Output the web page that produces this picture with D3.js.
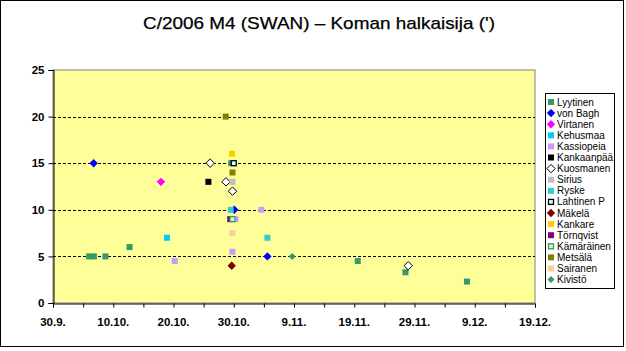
<!DOCTYPE html>
<html><head><meta charset="utf-8">
<script src="https://cdn.jsdelivr.net/npm/d3@7"></script>
<style>body{margin:0;background:#fff}svg{display:block}text{font-family:Arial,"Liberation Sans",sans-serif}</style>
</head><body><svg id="c" width="626" height="351"></svg>
<script>
const title = "C/2006 M4 (SWAN) \u2013 Koman halkaisija (')";
const observers = ["Lyytinen","von Bagh","Virtanen","Kehusmaa","Kassiopeia","Kankaanpää","Kuosmanen","Sirius","Ryske","Lahtinen P","Mäkelä","Kankare","Törnqvist","Kämäräinen","Metsälä","Sairanen","Kivistö"];
// observation: date (with hour), diameter in arcmin, observer
const obsDate = ["2006-10-06 00","2006-10-06 19","2006-10-08 17","2006-10-12 17","2006-10-29 14","2006-11-19 14","2006-11-27 12","2006-12-07 17",
  "2006-10-06 18","2006-10-30 02","2006-11-04 14",
  "2006-10-17 22",
  "2006-10-18 22",
  "2006-11-03 14","2006-10-30 07","2006-10-20 05","2006-10-29 19",
  "2006-10-25 19",
  "2006-10-26 02","2006-10-28 17","2006-10-29 19","2006-11-27 23",
  "2006-10-29 19",
  "2006-10-29 12","2006-11-04 14",
  "2006-10-30 00",
  "2006-10-29 16",
  "2006-10-29 17",
  "2006-10-29 10",
  "2006-10-29 19",
  "2006-10-28 16","2006-10-29 19",
  "2006-10-29 19",
  "2006-11-08 17"];
const obsValue = [5,5,5,6,15,4.5,3.3,2.3,
  15,10,5,
  13,
  7,
  10,9,4.5,5.5,
  13,
  15,13,12,4,
  13,
  10,7,
  15,
  4,
  16,
  9,
  9,
  20,14,
  7.5,
  5];
const obsObserver = ["Lyytinen","Lyytinen","Lyytinen","Lyytinen","Lyytinen","Lyytinen","Lyytinen","Lyytinen",
  "von Bagh","von Bagh","von Bagh",
  "Virtanen",
  "Kehusmaa",
  "Kassiopeia","Kassiopeia","Kassiopeia","Kassiopeia",
  "Kankaanpää",
  "Kuosmanen","Kuosmanen","Kuosmanen","Kuosmanen",
  "Sirius",
  "Ryske","Ryske",
  "Lahtinen P",
  "Mäkelä",
  "Kankare",
  "Törnqvist",
  "Kämäräinen",
  "Metsälä","Metsälä",
  "Sairanen",
  "Kivistö"];
const xTickLabels = ["30.9.","10.10.","20.10.","30.10.","9.11.","19.11.","29.11.","9.12.","19.12."];
const yTicks = [0,5,10,15,20,25];

const style = {
  "Lyytinen":{shape:"sq",fill:"#339966",stroke:"none"},
  "von Bagh":{shape:"dia",fill:"#0000FF",stroke:"none"},
  "Virtanen":{shape:"dia",fill:"#FF00FF",stroke:"none"},
  "Kehusmaa":{shape:"sq",fill:"#00CCFF",stroke:"none"},
  "Kassiopeia":{shape:"sq",fill:"#CC99FF",stroke:"none"},
  "Kankaanpää":{shape:"sq",fill:"#000000",stroke:"none"},
  "Kuosmanen":{shape:"dia",fill:"#FFFFFF",stroke:"#000000"},
  "Sirius":{shape:"sq",fill:"#C0C0C0",stroke:"none"},
  "Ryske":{shape:"sq",fill:"#33CCCC",stroke:"none"},
  "Lahtinen P":{shape:"sq",fill:"#CCFFFF",stroke:"#000000"},
  "Mäkelä":{shape:"dia",fill:"#800000",stroke:"none"},
  "Kankare":{shape:"sq",fill:"#FFCC00",stroke:"none"},
  "Törnqvist":{shape:"sq",fill:"#800080",stroke:"none"},
  "Kämäräinen":{shape:"sq",fill:"#CCFFCC",stroke:"#339966"},
  "Metsälä":{shape:"sq",fill:"#808000",stroke:"none"},
  "Sairanen":{shape:"sq",fill:"#FFCC99",stroke:"none"},
  "Kivistö":{shape:"dia",fill:"#339966",stroke:"none",small:true}
};

const parse = d3.timeParse("%Y-%m-%d %H");
const svg = d3.select("#c");
svg.append("rect").attr("x",0.5).attr("y",0.5).attr("width",623).attr("height",346).attr("fill","#fff").attr("stroke","#000");

const L=53, R=535, T=70, B=303;
const x = d3.scaleTime().domain([new Date(2006,8,30), new Date(2006,11,19)]).range([L,R]);
const y = d3.scaleLinear().domain([0,25]).range([B,T]);

svg.append("rect").attr("x",L).attr("y",T).attr("width",R-L).attr("height",B-T).attr("fill","#FFFF99").attr("stroke","#808080");

// gridlines
svg.append("g").selectAll("line").data(yTicks.filter(v=>v>0&&v<25)).join("line")
  .attr("x1",L).attr("x2",R).attr("y1",d=>Math.round(y(d))+0.5).attr("y2",d=>Math.round(y(d))+0.5)
  .attr("stroke","#000").attr("stroke-dasharray","3,2");

// axes
const xTickDates = d3.range(0,81,5).map(d=>d3.timeDay.offset(new Date(2006,8,30),d));
const xAxis = d3.axisBottom(x).tickValues(xTickDates).tickSize(4).tickFormat("");
const gx = svg.append("g").attr("transform",`translate(0,${B+0.5})`).call(xAxis);
gx.select(".domain").attr("stroke","#000");
gx.selectAll(".tick line").attr("stroke","#000");
svg.append("g").selectAll("text").data(xTickLabels).join("text")
  .attr("x",(d,i)=>x(xTickDates[i*2])).attr("y",326).attr("text-anchor","middle")
  .attr("font-size","11.5px").attr("font-weight","bold").text(d=>d);

const yAxis = d3.axisLeft(y).tickValues(yTicks).tickSize(5).tickPadding(4);
const gy = svg.append("g").attr("transform",`translate(${L+0.5},0)`).call(yAxis);
gy.select(".domain").attr("stroke","#000");
gy.selectAll(".tick line").attr("stroke","#000");
gy.selectAll(".tick text").attr("font-size","11.5px").attr("font-weight","bold").attr("font-family","Arial,'Liberation Sans',sans-serif").attr("fill","#000");

function marker(g, s, cx, cy){
  if(s.shape==="sq"){
    const w = s.stroke==="none"?6:5;
    g.append("rect").attr("x",cx-w/2).attr("y",cy-w/2).attr("width",w).attr("height",w)
     .attr("fill",s.fill).attr("stroke",s.stroke).attr("stroke-width",s.stroke==="none"?0:1.3);
  } else {
    const r = s.small?3.5:4.2;
    g.append("path").attr("d",`M${cx},${cy-r}L${cx+r},${cy}L${cx},${cy+r}L${cx-r},${cy}Z`)
     .attr("fill",s.fill).attr("stroke",s.stroke).attr("stroke-width",1);
  }
}

const pts = svg.append("g");
observers.forEach(name=>{
  obsDate.forEach((d,i)=>{
    if(obsObserver[i]!==name) return;
    marker(pts, style[name], x(parse(d)), y(obsValue[i]));
  });
});

// title
svg.append("text").attr("x",319).attr("y",29).attr("text-anchor","middle").attr("font-size","17px")
  .attr("textLength",352).attr("lengthAdjust","spacingAndGlyphs").attr("stroke","#000").attr("stroke-width",0.25).text(title);

// legend
const lg = svg.append("g");
lg.append("rect").attr("x",545.5).attr("y",93.5).attr("width",69).attr("height",195).attr("fill","#fff").attr("stroke","#000");
observers.forEach((name,i)=>{
  const cy = 102 + i*11.1;
  marker(lg, style[name], 551, cy);
  lg.append("text").attr("x",557).attr("y",cy+3.5).attr("font-size","10px").text(name);
});
</script></body></html>
